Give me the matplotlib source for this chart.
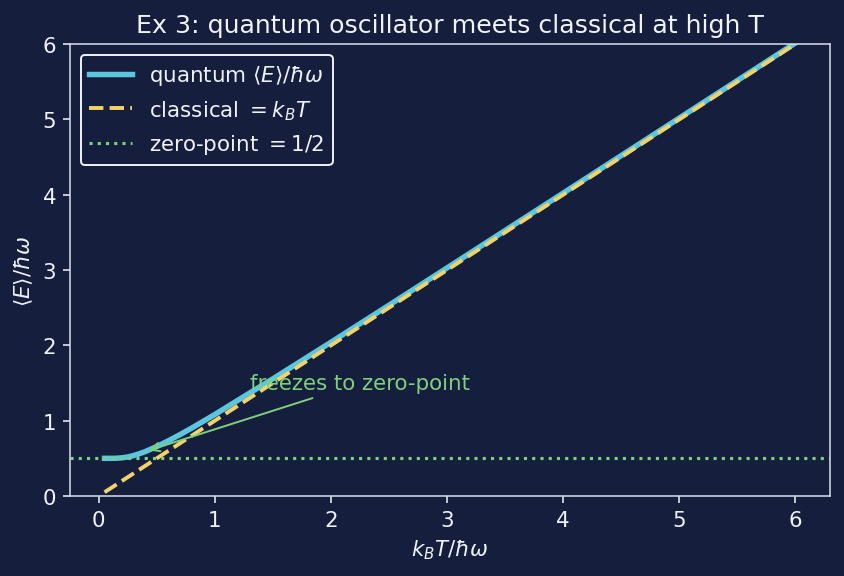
import matplotlib
matplotlib.use("Agg")
import matplotlib.pyplot as plt

# values
T_quantum = [0.05, 0.1, 0.15, 0.2, 0.25, 0.3, 0.35, 0.4, 0.5, 0.6, 0.7, 0.8, 1.0, 1.25, 1.5, 2.0, 2.5, 3.0, 4.0, 5.0, 6.0]
E_quantum = [0.5, 0.5, 0.501, 0.507, 0.518, 0.537, 0.561, 0.589, 0.657, 0.733, 0.815, 0.901, 1.082, 1.32, 1.556, 2.041, 2.533, 3.028, 4.021, 5.017, 6.014]
T_classical = [0.05, 6.0]
E_classical = [0.05, 6.0]
zero_point = 0.5

bg = "#151f3d"
fg = "#f0f2f8"
cyan = "#5bc6dc"
yellow = "#f4d26a"
green = "#7fcf7f"

plt.rcParams["font.size"] = 11

W, H = 844, 577
fig, ax = plt.subplots(figsize=(W/140, H/140), dpi=140)
fig.patch.set_facecolor(bg)
ax.set_facecolor(bg)

ax.plot(T_quantum, E_quantum, color=cyan, lw=2.8, label=r"quantum $\langle E\rangle/\hbar\omega$")
ax.plot(T_classical, E_classical, color=yellow, lw=2, ls="--", label=r"classical $=k_BT$")
ax.axhline(zero_point, color=green, lw=1.6, ls=":", label=r"zero-point $=1/2$")

ax.annotate("freezes to zero-point", xy=(0.4, 0.59), xytext=(1.3, 1.42),
            color=green, fontsize=11,
            arrowprops=dict(arrowstyle="->", color=green, lw=1))

ax.set_ylim(0, 6)
ax.set_xlabel(r"$k_BT/\hbar\omega$", color=fg)
ax.set_ylabel(r"$\langle E\rangle/\hbar\omega$", color=fg)
ax.set_title("Ex 3: quantum oscillator meets classical at high T", color=fg, fontsize=13)
ax.tick_params(colors=fg)
for s in ax.spines.values():
    s.set_color("#d8dcea")

leg = ax.legend(loc="upper left", facecolor=bg, edgecolor=fg, labelcolor=fg)
leg.get_frame().set_alpha(1)

fig.subplots_adjust(left=70/W, right=830/W, top=1-45/H, bottom=1-497/H)
fig.savefig("out.png", dpi=140, facecolor=bg)
